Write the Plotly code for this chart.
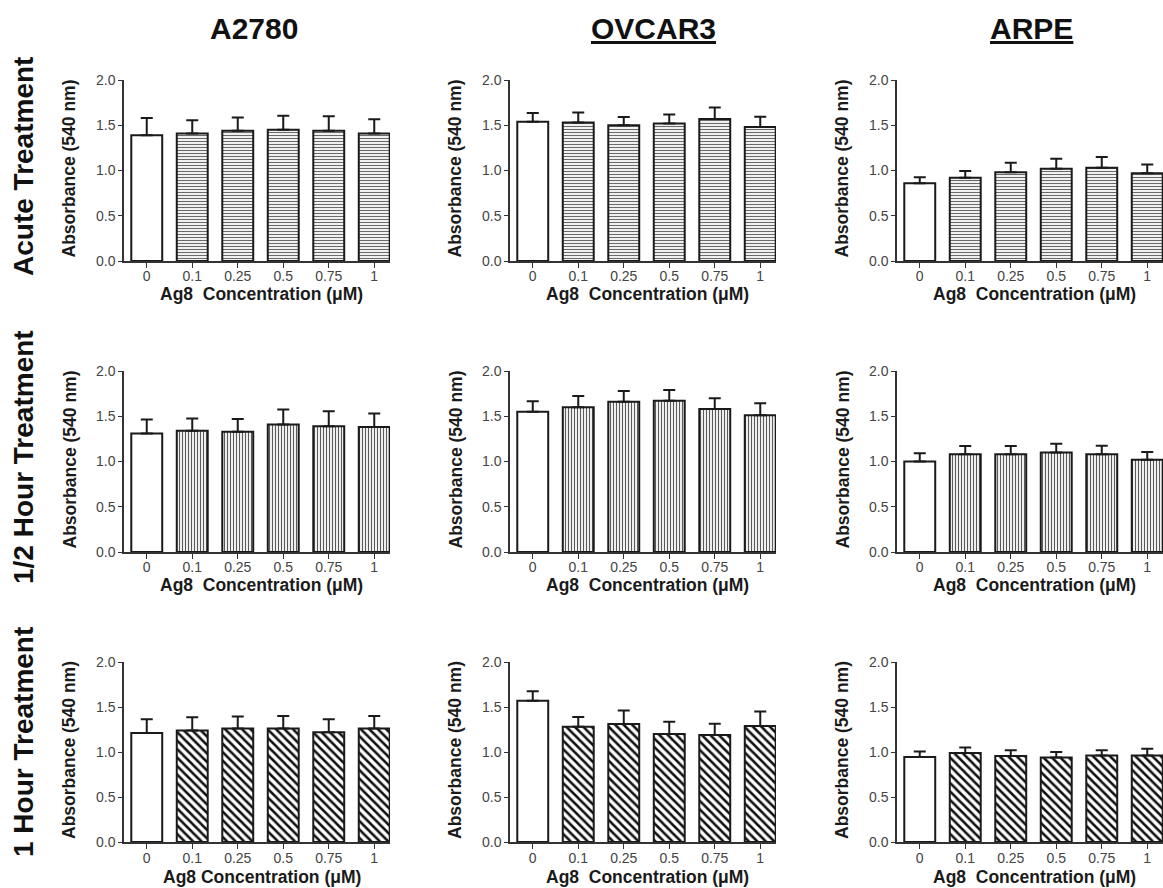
import plotly.graph_objects as go

# ---------------- data ----------------
categories = ["0", "0.1", "0.25", "0.5", "0.75", "1"]
cell_lines = ["A2780", "OVCAR3", "ARPE"]
treatments = ["Acute Treatment", "1/2 Hour Treatment", "1 Hour Treatment"]

acute_a2780 = [1.39, 1.41, 1.44, 1.45, 1.44, 1.41]
acute_a2780_err = [0.19, 0.145, 0.145, 0.155, 0.16, 0.155]
acute_ovcar3 = [1.54, 1.53, 1.50, 1.52, 1.57, 1.48]
acute_ovcar3_err = [0.095, 0.11, 0.09, 0.10, 0.125, 0.115]
acute_arpe = [0.86, 0.92, 0.98, 1.02, 1.03, 0.97]
acute_arpe_err = [0.065, 0.075, 0.105, 0.11, 0.12, 0.095]

half_a2780 = [1.31, 1.34, 1.33, 1.41, 1.39, 1.38]
half_a2780_err = [0.155, 0.135, 0.14, 0.165, 0.165, 0.15]
half_ovcar3 = [1.55, 1.60, 1.66, 1.67, 1.58, 1.51]
half_ovcar3_err = [0.115, 0.125, 0.12, 0.12, 0.12, 0.135]
half_arpe = [1.00, 1.08, 1.08, 1.10, 1.08, 1.02]
half_arpe_err = [0.09, 0.09, 0.09, 0.095, 0.095, 0.085]

one_a2780 = [1.21, 1.24, 1.26, 1.26, 1.22, 1.26]
one_a2780_err = [0.155, 0.145, 0.135, 0.14, 0.145, 0.14]
one_ovcar3 = [1.57, 1.28, 1.31, 1.20, 1.19, 1.29]
one_ovcar3_err = [0.105, 0.11, 0.15, 0.135, 0.125, 0.16]
one_arpe = [0.945, 0.99, 0.955, 0.94, 0.96, 0.96]
one_arpe_err = [0.06, 0.06, 0.065, 0.06, 0.06, 0.075]

y_ticks = [0.0, 0.5, 1.0, 1.5, 2.0]

grid_means = [
    [acute_a2780, acute_ovcar3, acute_arpe],
    [half_a2780, half_ovcar3, half_arpe],
    [one_a2780, one_ovcar3, one_arpe],
]
grid_errs = [
    [acute_a2780_err, acute_ovcar3_err, acute_arpe_err],
    [half_a2780_err, half_ovcar3_err, half_arpe_err],
    [one_a2780_err, one_ovcar3_err, one_arpe_err],
]

# ---------------- layout geometry ----------------
W, H = 1163, 888
SPACING = 45.5               # px per category


def px(x):
    return x / W


def py(y):
    return 1 - y / H


col_px = [(124, 390), (510, 776), (897, 1163)]
row_px = [(80, 261), (371, 552), (662, 842)]
xtitle_offset = [33, 33, 35]

patterns = [
    dict(shape="-", size=3, solidity=0.4, fgcolor="#6a6a6a"),
    dict(shape="|", size=3, solidity=0.4, fgcolor="#5a5a5a"),
    dict(shape="\\", size=6, solidity=0.42, fgcolor="#111111"),
]

FONT = "Arial, Liberation Sans, sans-serif"
fig = go.Figure()
annotations = []

for r in range(3):
    for c in range(3):
        idx = r * 3 + c + 1
        xa = "x" if idx == 1 else f"x{idx}"
        ya = "y" if idx == 1 else f"y{idx}"
        p = patterns[r]
        shapes = [""] + [p["shape"]] * 5
        fig.add_trace(go.Bar(
            x=categories, y=grid_means[r][c],
            xaxis=xa, yaxis=ya, width=0.68,
            marker=dict(
                color="white",
                line=dict(color="#1a1a1a", width=2),
                pattern=dict(shape=shapes, size=p["size"], solidity=p["solidity"],
                             fgcolor=p["fgcolor"], bgcolor="white", fillmode="replace"),
            ),
            error_y=dict(type="data", symmetric=False, array=grid_errs[r][c],
                         arrayminus=[0] * len(categories), color="#1a1a1a",
                         thickness=2, width=6),
            showlegend=False, hoverinfo="skip",
        ))
        x0, x1 = col_px[c]
        y0, y1 = row_px[r]
        axis_common = dict(showline=True, linecolor="#333", linewidth=1.5,
                           ticks="outside", tickcolor="#333", tickwidth=1.2,
                           showgrid=False, zeroline=False, automargin=False,
                           tickfont=dict(family=FONT, size=14, color="#444"))
        fig.layout[("xaxis" if idx == 1 else f"xaxis{idx}")] = dict(
            domain=[px(x0), px(x1)], anchor=ya, type="category",
            range=[-0.5, -0.5 + (x1 - x0) / SPACING], ticklen=5,
            ticklabelstandoff=(-4 if r < 2 else -3), **axis_common)
        fig.layout[("yaxis" if idx == 1 else f"yaxis{idx}")] = dict(
            domain=[py(y1), py(y0)], anchor=xa, range=[0, 2.0],
            tickvals=y_ticks, tickformat=".1f", ticklen=4, **axis_common)
        # y axis title
        annotations.append(dict(
            text="<b>Absorbance (540 nm)</b>", textangle=-90,
            x=px(x0 - 55), y=py((y0 + y1) / 2 - 2),
            xref="paper", yref="paper", showarrow=False,
            xanchor="center", yanchor="middle",
            font=dict(family=FONT, size=17.5, color="#1a1a1a")))
        # x axis title
        xt = "Ag8 Concentration (μM)" if (r == 2 and c == 0) else "Ag8\u00a0 Concentration (μM)"
        annotations.append(dict(
            text=f"<b>{xt}</b>",
            x=px(x0 + 3 * SPACING + 1), y=py(y1 + xtitle_offset[r]),
            xref="paper", yref="paper", showarrow=False,
            xanchor="center", yanchor="middle",
            font=dict(family=FONT, size=17.5, color="#1a1a1a")))

# column titles
col_title_x = [254, 653, 1031]
for c, name in enumerate(cell_lines):
    txt = f"<b>{name}</b>" if c == 0 else f"<b><u>{name}</u></b>"
    annotations.append(dict(text=txt, x=px(col_title_x[c]), y=py(28),
                            xref="paper", yref="paper", showarrow=False,
                            xanchor="center", yanchor="middle",
                            font=dict(family=FONT, size=30, color="#111")))

# row titles
row_title_y = [167, 457, 742]
for r, name in enumerate(treatments):
    annotations.append(dict(text=f"<b>{name}</b>", textangle=-90,
                            x=px(23), y=py(row_title_y[r]),
                            xref="paper", yref="paper", showarrow=False,
                            xanchor="center", yanchor="middle",
                            font=dict(family=FONT, size=28, color="#111")))

fig.update_layout(
    width=W, height=H,
    margin=dict(l=0, r=0, t=0, b=0, autoexpand=False),
    paper_bgcolor="white", plot_bgcolor="white",
    annotations=annotations,
    bargap=0.3,
)

# remove the default page margin so the 1163x888 figure fills the window exactly
fig.write_html("out.html",
               config={"displayModeBar": False},
               post_script="document.body.style.margin='0';document.body.style.overflow='hidden';")
